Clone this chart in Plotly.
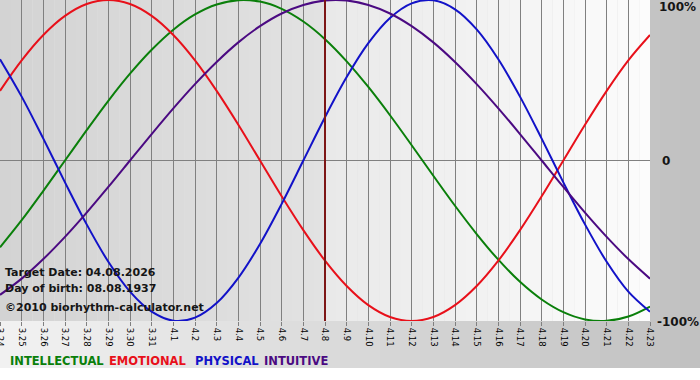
import plotly.graph_objects as go
import numpy as np

# ---------------- data ----------------
dates = ["3.24", "3.25", "3.26", "3.27", "3.28", "3.29", "3.30", "3.31",
         "4.1", "4.2", "4.3", "4.4", "4.5", "4.6", "4.7", "4.8", "4.9",
         "4.10", "4.11", "4.12", "4.13", "4.14", "4.15", "4.16", "4.17",
         "4.18", "4.19", "4.20", "4.21", "4.22", "4.23"]

intellectual = [-0.541, -0.372, -0.189, 0.000, 0.189, 0.372, 0.541, 0.690,
                0.815, 0.910, 0.972, 0.999, 0.990, 0.945, 0.866, 0.756,
                0.618, 0.458, 0.282, 0.095, -0.095, -0.282, -0.458, -0.618,
                -0.756, -0.866, -0.945, -0.990, -0.999, -0.972, -0.910]
emotional = [0.434, 0.624, 0.782, 0.901, 0.975, 1.000, 0.975, 0.901, 0.782,
             0.624, 0.434, 0.223, 0.000, -0.223, -0.434, -0.624, -0.782,
             -0.901, -0.975, -1.000, -0.975, -0.901, -0.782, -0.624, -0.434,
             -0.223, 0.000, 0.223, 0.434, 0.624, 0.782]
physical = [0.631, 0.398, 0.136, -0.136, -0.398, -0.631, -0.817, -0.942,
            -0.998, -0.979, -0.888, -0.731, -0.520, -0.270, 0.000, 0.270,
            0.520, 0.731, 0.888, 0.979, 0.998, 0.942, 0.817, 0.631, 0.398,
            0.136, -0.136, -0.398, -0.631, -0.817, -0.942]
intuitive = [-0.837, -0.736, -0.614, -0.476, -0.325, -0.165, 0.000, 0.165,
             0.325, 0.476, 0.614, 0.736, 0.837, 0.916, 0.969, 0.997, 0.997,
             0.969, 0.916, 0.837, 0.736, 0.614, 0.476, 0.325, 0.165, 0.000,
             -0.165, -0.325, -0.476, -0.614, -0.736]

target_date = "4.8"
info_lines = ["Target Date: 04.08.2026", "Day of birth: 08.08.1937",
              "©2010 biorhythm-calculator.net"]
legend_names = ["INTELLECTUAL", "EMOTIONAL", "PHYSICAL", "INTUITIVE"]
y_tick_labels = ["100%", "0", "-100%"]

# ---------------- styling ----------------
W, H = 700, 380
ML, MR, MT, MB = 0, 50, 0, 59
PW, PH = W - ML - MR, H - MT - MB
FONT = "DejaVu Sans"
colors = {"INTELLECTUAL": "#0a7f0a", "EMOTIONAL": "#e8101a",
          "PHYSICAL": "#1212c8", "INTUITIVE": "#4b0a82"}
series = {"INTELLECTUAL": intellectual, "EMOTIONAL": emotional,
          "PHYSICAL": physical, "INTUITIVE": intuitive}


def px_x(p):
    # figure pixel -> paper coordinate (paper = plot area)
    return (p - ML) / PW


def px_y(p):
    return (H - MB - p) / PH


def gray(v):
    v = int(round(v))
    return f"rgb({v},{v},{v})"


fig = go.Figure()

for name in legend_names:
    fig.add_trace(go.Scatter(
        x=dates, y=series[name], mode="lines", name=name,
        line=dict(color=colors[name], width=2, shape="spline", smoothing=1),
        hoverinfo="skip", showlegend=False, cliponaxis=True))

# target date marker line
fig.add_trace(go.Scatter(
    x=[target_date, target_date], y=[-1.05, 1.05], mode="lines",
    line=dict(color="#7d1616", width=2), hoverinfo="skip", showlegend=False))

shapes = []
# outer (margin) horizontal gradient
n_out = 35
for i in range(n_out):
    shapes.append(dict(type="rect", xref="paper", yref="paper",
                       x0=px_x(i * W / n_out), x1=px_x((i + 1) * W / n_out + 1),
                       y0=px_y(368), y1=px_y(-2), line=dict(width=0),
                       fillcolor=gray(242 - 50 * (i + 0.5) / n_out),
                       layer="below"))
# plot-area gradient (darker before the target date, lighter after)
n_days = len(dates) - 1
t_idx = dates.index(target_date)
steps = 2
for i in range(t_idx * steps):
    x0 = i / steps
    shapes.append(dict(type="rect", xref="x", yref="y", x0=x0, x1=x0 + 1 / steps + 0.01,
                       y0=-1.1, y1=1.1, line=dict(width=0),
                       fillcolor=gray(211 + 15 * (i + 0.5) / (t_idx * steps)),
                       layer="below"))
nr = (n_days - t_idx) * steps
for i in range(nr):
    x0 = t_idx + i / steps
    shapes.append(dict(type="rect", xref="x", yref="y", x0=x0, x1=x0 + 1 / steps + 0.01,
                       y0=-1.1, y1=1.1, line=dict(width=0),
                       fillcolor=gray(233 + 19 * (i + 0.5) / nr),
                       layer="below"))

annotations = []
# info text, bottom-left of plot
for txt, py in zip(info_lines, [272, 288, 307]):
    annotations.append(dict(text=txt, xref="paper", yref="paper",
                            x=px_x(3), y=px_y(py), xanchor="left", yanchor="middle",
                            showarrow=False,
                            font=dict(family=FONT, size=11, color="#151515", weight="bold")))
# right-side percentage labels
for lab, py, pxl in zip(y_tick_labels, [7, 161, 322], [657, 660, 655]):
    annotations.append(dict(text=lab, xref="paper", yref="paper",
                            x=px_x(pxl), y=px_y(py),
                            xanchor="left", yanchor="middle", showarrow=False,
                            font=dict(family=FONT, size=12, color="#151515", weight="bold")))
# legend words
for name, px in zip(legend_names, [8, 107, 193, 262]):
    annotations.append(dict(text=name, xref="paper", yref="paper",
                            x=px_x(px), y=px_y(361), xanchor="left", yanchor="middle",
                            showarrow=False,
                            font=dict(family=FONT, size=11.5, color=colors[name], weight="bold")))

fig.update_layout(
    width=W, height=H, autosize=False,
    margin=dict(l=ML, r=MR, t=MT, b=MB, pad=0, autoexpand=False),
    paper_bgcolor="white", plot_bgcolor="rgba(0,0,0,0)",
    shapes=shapes, annotations=annotations, showlegend=False,
    hovermode=False,
    xaxis=dict(type="category", range=[0, n_days], showgrid=True,
               gridcolor="#808080", gridwidth=1, zeroline=False,
               ticks="outside", ticklen=4, tickcolor="#808080", tickwidth=1,
               tickangle=90, tickfont=dict(family=FONT, size=8.5, color="#000"),
               showline=False, fixedrange=True, automargin=False),
    yaxis=dict(range=[-1, 1], showgrid=False, zeroline=True,
               zerolinecolor="#808080", zerolinewidth=1, showticklabels=False,
               ticks="", showline=False, fixedrange=True, automargin=False),
)

fig.write_html("out.html", config={"displayModeBar": False},
               post_script="document.body.style.margin='0px';"
                           "document.body.style.overflow='hidden';")
